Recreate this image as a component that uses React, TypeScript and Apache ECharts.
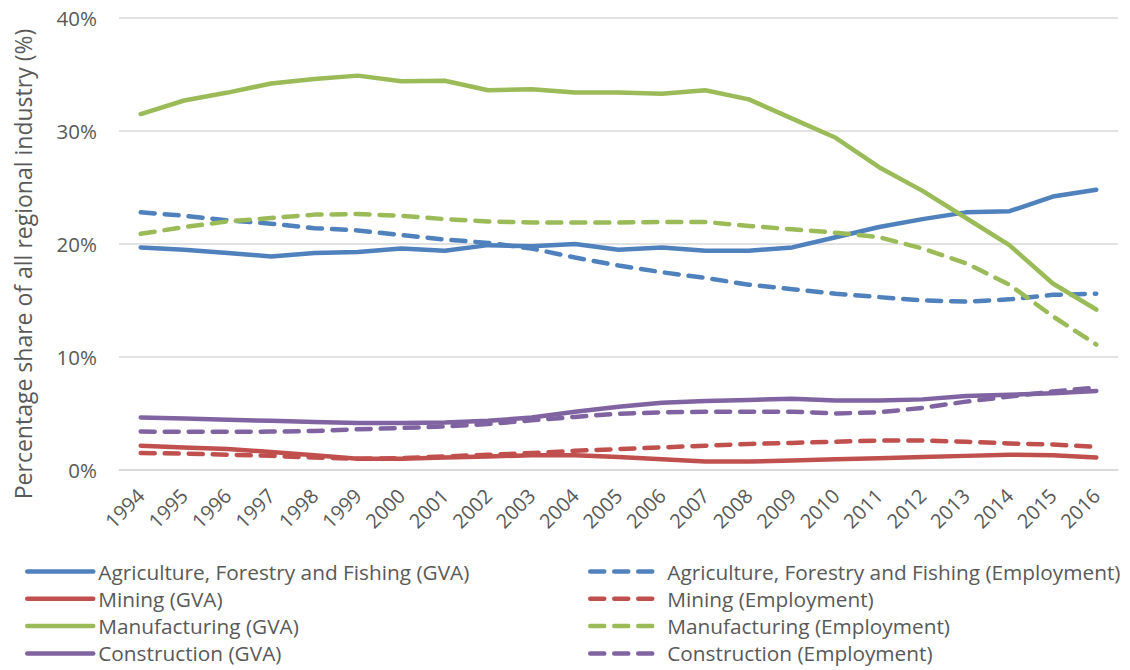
import React, { useEffect, useRef } from "react";
import * as echarts from "echarts";

const years = ["1994","1995","1996","1997","1998","1999","2000","2001","2002","2003","2004","2005","2006","2007","2008","2009","2010","2011","2012","2013","2014","2015","2016"];
const agriGVA = [19.7,19.5,19.2,18.9,19.2,19.3,19.6,19.4,19.9,19.8,20.0,19.5,19.7,19.4,19.4,19.7,20.6,21.5,22.2,22.8,22.9,24.2,24.8];
const agriEmp = [22.8,22.5,22.1,21.8,21.4,21.2,20.8,20.4,20.1,19.6,18.8,18.1,17.5,17.0,16.4,16.0,15.6,15.3,15.0,14.9,15.1,15.5,15.6];
const miningGVA = [2.15,2.0,1.85,1.6,1.3,1.0,1.0,1.1,1.2,1.3,1.3,1.15,0.95,0.75,0.75,0.85,0.95,1.05,1.15,1.25,1.35,1.3,1.1];
const miningEmp = [1.5,1.45,1.35,1.25,1.1,1.0,1.05,1.2,1.35,1.5,1.7,1.85,2.0,2.15,2.3,2.4,2.5,2.6,2.6,2.5,2.35,2.25,2.05];
const manufGVA = [31.5,32.7,33.4,34.2,34.6,34.9,34.4,34.45,33.6,33.7,33.4,33.4,33.3,33.6,32.8,31.1,29.4,26.8,24.7,22.3,19.9,16.5,14.2];
const manufEmp = [20.9,21.5,22.0,22.3,22.6,22.65,22.5,22.2,22.0,21.9,21.9,21.9,21.95,21.95,21.6,21.3,21.0,20.6,19.6,18.3,16.4,13.6,11.1];
const consGVA = [4.65,4.55,4.45,4.35,4.25,4.15,4.15,4.2,4.35,4.65,5.15,5.6,5.95,6.1,6.2,6.3,6.15,6.15,6.25,6.55,6.65,6.8,7.0];
const consEmp = [3.4,3.38,3.38,3.4,3.45,3.6,3.72,3.85,4.07,4.4,4.7,4.98,5.1,5.16,5.16,5.16,5.0,5.1,5.5,6.05,6.5,6.95,7.3];

const seriesDefs = [
  { name: "Agriculture, Forestry and Fishing (GVA)", data: agriGVA, color: "#4F81BD", dashed: false },
  { name: "Agriculture, Forestry and Fishing (Employment)", data: agriEmp, color: "#4F81BD", dashed: true },
  { name: "Mining (GVA)", data: miningGVA, color: "#C0504D", dashed: false },
  { name: "Mining (Employment)", data: miningEmp, color: "#C0504D", dashed: true },
  { name: "Manufacturing (GVA)", data: manufGVA, color: "#9BBB59", dashed: false },
  { name: "Manufacturing (Employment)", data: manufEmp, color: "#9BBB59", dashed: true },
  { name: "Construction (GVA)", data: consGVA, color: "#8064A2", dashed: false },
  { name: "Construction (Employment)", data: consEmp, color: "#8064A2", dashed: true },
];

const FONT = "Open Sans";
const TEXT = "#595959";

export default function App() {
  const ref = useRef<HTMLDivElement>(null);
  useEffect(() => {
    document.body.style.margin = "0";
    const chart = echarts.init(ref.current!, null, { renderer: "svg" });
    const legendText = { fontFamily: FONT, fontSize: 20.8, color: TEXT, lineHeight: 20 };
    const legendCommon = {
      orient: "vertical",
      top: 561,
      padding: 0,
      itemWidth: 66,
      itemHeight: 12,
      itemGap: 6.3,
      itemStyle: { opacity: 0 },
      lineStyle: { width: 4.5, cap: "round" },
    };
    chart.setOption({
      animation: false,
      backgroundColor: "#ffffff",
      grid: { left: 119, right: 12, top: 18, bottom: 200, containLabel: false },
      xAxis: {
        type: "category",
        data: years,
        boundaryGap: true,
        axisLine: { show: true, lineStyle: { color: "#D9D9D9", width: 1.5 } },
        axisTick: { show: false },
        axisLabel: { rotate: 45, margin: 22, fontFamily: FONT, fontSize: 20, color: TEXT, interval: 0 },
      },
      yAxis: {
        type: "value",
        min: 0,
        max: 40,
        interval: 10,
        axisLine: { show: false },
        axisTick: { show: false },
        splitLine: { lineStyle: { color: "#D9D9D9", width: 1.5 } },
        axisLabel: { formatter: "{value}%", margin: 22, fontFamily: FONT, fontSize: 20.5, color: TEXT },
      },
      legend: [
        {
          ...legendCommon,
          left: 25,
          textStyle: legendText,
          data: seriesDefs.filter((s) => !s.dashed).map((s) => s.name),
        },
        {
          ...legendCommon,
          left: 588,
          textStyle: { ...legendText, padding: [0, 0, 0, 6] },
          data: seriesDefs.filter((s) => s.dashed).map((s) => s.name),
        },
      ],
      graphic: [
        {
          type: "text",
          x: 23,
          y: 264,
          rotation: Math.PI / 2,
          style: {
            text: "Percentage share of all regional industry (%)",
            fontFamily: FONT,
            fontSize: 23,
            fill: TEXT,
            textAlign: "center",
            textVerticalAlign: "middle",
          },
        },
      ],
      series: seriesDefs.map((s) => ({
        name: s.name,
        type: "line",
        data: s.data,
        symbol: "none",
        color: s.color,
        lineStyle: {
          color: s.color,
          width: 4.5,
          type: s.dashed ? [14, 10] : "solid",
          cap: "round",
          join: "round",
        },
      })),
    });
    return () => chart.dispose();
  }, []);
  return <div ref={ref} style={{ width: 1130, height: 670 }} />;
}
